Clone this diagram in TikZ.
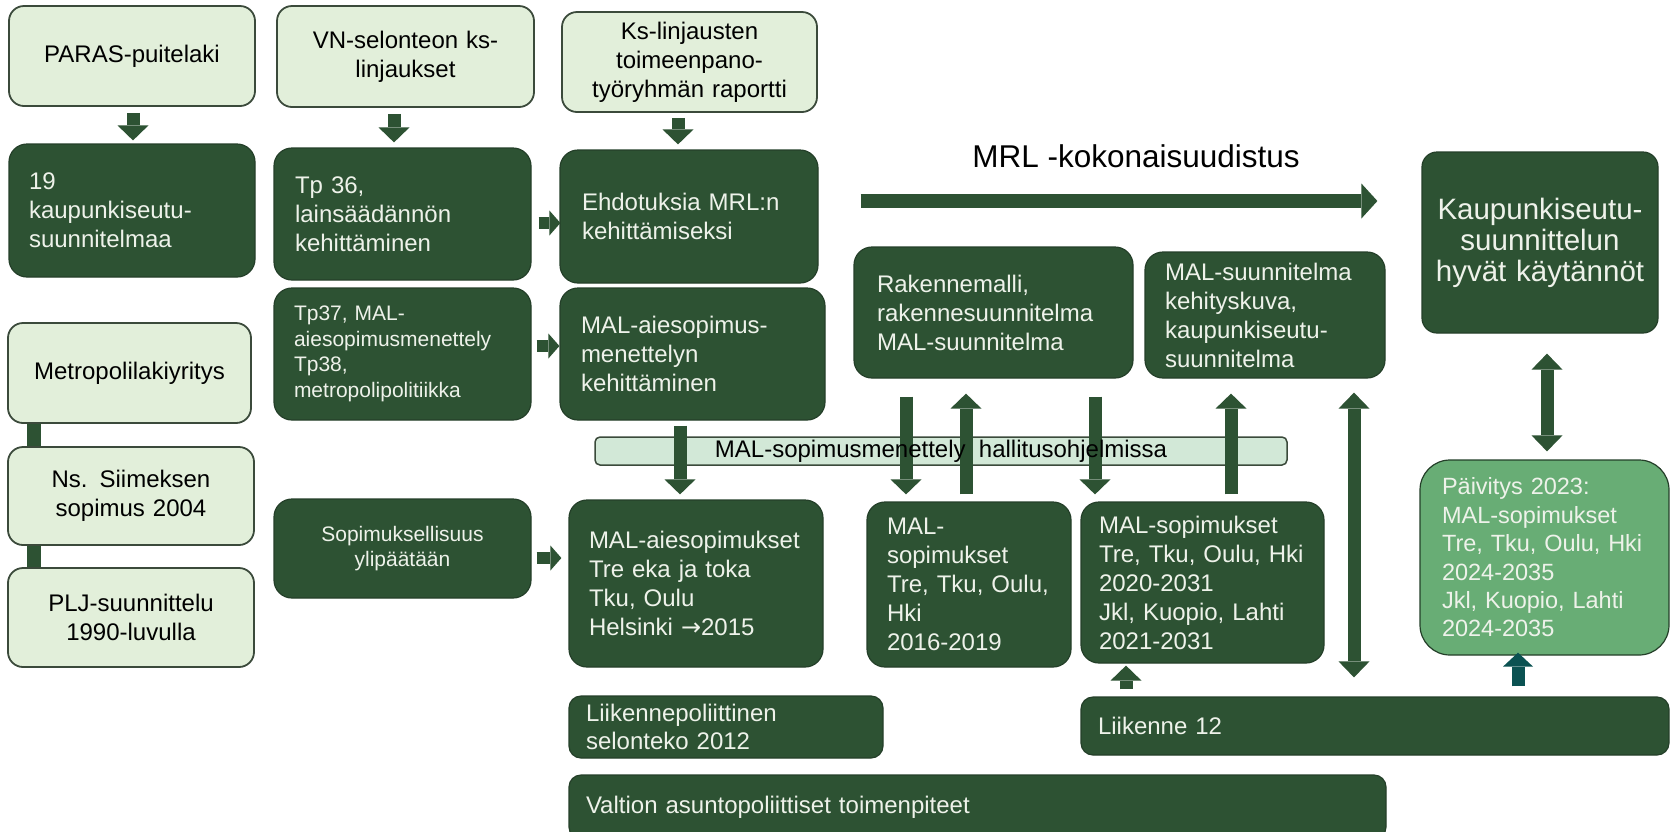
\documentclass[tikz,border=0pt]{standalone}
\usepackage{fontspec}
\setmainfont{Liberation Sans}
\newfontfamily\arrowfont{DejaVu Sans}
\usetikzlibrary{arrows.meta}
\definecolor{dgreen}{HTML}{2D5233}
\definecolor{dborder}{HTML}{243F29}
\definecolor{lgreen}{HTML}{E2EFDA}
\definecolor{lborder}{HTML}{3B4A3B}
\definecolor{barfill}{HTML}{D2E8D7}
\definecolor{mgreen}{HTML}{68AD75}
\definecolor{tealarrow}{HTML}{0B5252}
\definecolor{boxtext}{HTML}{EEF2EA}
\tikzset{
  fnorm/.style={font=\fontsize{24pt}{29pt}\selectfont},
  fsmall/.style={font=\fontsize{21pt}{25.5pt}\selectfont},
  dbox/.style={rectangle, rounded corners=18pt, fill=dgreen, draw=dborder, line width=1.2pt,
    text=boxtext, align=left, inner ysep=0pt, fnorm},
  lbox/.style={rectangle, rounded corners=15pt, fill=lgreen, draw=lborder, line width=1.8pt,
    text=black, align=center, inner xsep=0pt, inner ysep=0pt, fnorm},
  sz/.style n args={4}{minimum width=#1pt, minimum height=#2pt, inner xsep=#3pt, text width=#4pt},
  blk/.style={draw=dgreen, line width=13pt},
  darr/.style={blk, -{Triangle[width=31pt,length=15pt,line width=0pt]}},
  rarr/.style={draw=dgreen, line width=12pt, -{Triangle[width=25pt,length=11pt,line width=0pt]}},
  dbl/.style={blk, {Triangle[width=31pt,length=16pt,line width=0pt]}-{Triangle[width=31pt,length=16pt,line width=0pt]}},
  mrlarr/.style={draw=dgreen, line width=14pt, -{Triangle[width=35pt,length=16pt,line width=0pt]}},
  tarr/.style={draw=tealarrow, line width=13pt, -{Triangle[width=30pt,length=14pt,line width=0pt]}},
  link/.style={draw=dgreen, line width=14pt},
}
\begin{document}
\begin{tikzpicture}[x=1pt,y=-1pt]
\useasboundingbox (0,0) rectangle (1671,831);

% light boxes
\node[lbox, sz={246}{100}{0}{246}] (paras) at (132,56) {PARAS-puitelaki};
\node[lbox, sz={257}{101}{0}{257}] (vn) at (405.5,56.5) {VN-selonteon ks-\\linjaukset};
\node[lbox, sz={255}{100}{0}{255}] (ks) at (689.5,62) {Ks-linjausten\\toimeenpano-\\työryhmän raportti};
\node[lbox, sz={243}{100}{0}{243}] (metro) at (129.5,373) {Metropolilakiyritys};
\node[lbox, sz={246}{98}{0}{246}] (ns) at (131,496) {Ns. Siimeksen\\sopimus 2004};
\node[lbox, sz={246}{99}{0}{246}] (plj) at (131,617.5) {PLJ-suunnittelu\\1990-luvulla};

% dark boxes
\node[dbox, sz={246}{133}{20}{206}] (nine19) at (132,210.5) {19\\kaupunkiseutu-\\suunnitelmaa};
\node[dbox, sz={257}{132}{21}{215}] (tp36) at (402.5,214) {Tp 36,\\lainsäädännön\\kehittäminen};
\node[dbox, sz={258}{133}{22}{214}] (ehd) at (689,216.5) {Ehdotuksia MRL:n\\kehittämiseksi};
\node[dbox, sz={257}{132}{20}{217}, fsmall] (tp37) at (402.5,354) {Tp37, MAL-\\aiesopimusmenettely\\Tp38,\\metropolipolitiikka};
\node[dbox, sz={265}{132}{21}{223}] (malmen) at (692.5,354) {MAL-aiesopimus-\\menettelyn\\kehittäminen};
\node[dbox, sz={279}{131}{23}{233}] (rak) at (993.5,312.5) {Rakennemalli,\\rakennesuunnitelma\\MAL-suunnitelma};
\node[dbox, sz={240}{126}{20}{200}] (keh) at (1265,315) {MAL-suunnitelma\\kehityskuva,\\kaupunkiseutu-\\suunnitelma};
\node[dbox, sz={236}{181}{0}{236}, align=center, rounded corners=15pt,
  font=\fontsize{29.5pt}{31pt}\selectfont] (kaup) at (1540,242.5) {Kaupunkiseutu-\\suunnittelun\\hyvät käytännöt};
\node[dbox, sz={257}{99}{0}{257}, align=center, fsmall] (sop) at (402.5,548.5) {Sopimuksellisuus\\ylipäätään};
\node[dbox, sz={254}{167}{20}{214}] (malaie) at (696,583.5) {MAL-aiesopimukset\\Tre eka ja toka\\Tku, Oulu\\Helsinki {\arrowfont →}2015};
\node[dbox, sz={204}{165}{20}{164}] (mal16) at (969,584.5) {MAL-\\sopimukset\\Tre, Tku, Oulu,\\Hki\\2016-2019};
\node[dbox, sz={243}{161}{18}{207}] (mal20) at (1202.5,582.5) {MAL-sopimukset\\Tre, Tku, Oulu, Hki\\2020-2031\\Jkl, Kuopio, Lahti\\2021-2031};
\node[dbox, sz={249}{195}{22}{205}, fill=mgreen, rounded corners=30pt,
  font=\fontsize{23.5pt}{28.4pt}\selectfont] (paiv) at (1544.5,557.5) {Päivitys 2023:\\MAL-sopimukset\\Tre, Tku, Oulu, Hki\\2024-2035\\Jkl, Kuopio, Lahti\\2024-2035};
\node[dbox, sz={314}{62}{17}{280}, rounded corners=12pt, font=\fontsize{24pt}{28pt}\selectfont] (liikp) at (726,727) {Liikennepoliittinen\\selonteko 2012};
\node[dbox, sz={588}{58}{17}{554}, rounded corners=12pt] (liik12) at (1375,726) {Liikenne 12};
\begin{scope}
\clip (0,0) rectangle (1671,831);
\node[dbox, sz={817}{64}{17}{783}, rounded corners=12pt] (valt) at (977.5,807) {Valtion asuntopoliittiset toimenpiteet};
\end{scope}

% MRL label
\node[font=\fontsize{31.5pt}{36pt}\selectfont, text=black, inner sep=0pt] (mrl) at (1136,156) {MRL -kokonaisuudistus};

% government programme bar (fill first)
\node[rectangle, rounded corners=5pt, fill=barfill, draw=lborder, line width=1.5pt,
  minimum width=692pt, minimum height=28pt, inner sep=0pt] (bar) at (941,451) {};

% links on the left
\draw[link] (metro.south -| 34,0) -- (ns.north -| 34,0);
\draw[link] (ns.south -| 34,0) -- (plj.north -| 34,0);

% arrows
\draw[darr, shorten <=6pt, shorten >=3pt] (paras.south -| 133,0) -- (nine19.north -| 133,0);
\draw[darr, shorten <=6pt, shorten >=5pt] (vn.south -| 394,0) -- (tp36.north -| 394,0);
\draw[darr, shorten <=5pt, shorten >=5pt] (ks.south -| 678,0) -- (ehd.north -| 678,0);
\draw[rarr, shorten <=7pt, shorten >=-1pt] (tp36.east |- 0,223) -- (ehd.west |- 0,223);
\draw[rarr, shorten <=5pt, shorten >=0pt] (tp37.east |- 0,346) -- (malmen.west |- 0,346);
\draw[rarr, shorten <=5pt, shorten >=7pt] (sop.east |- 0,558) -- (malaie.west |- 0,558);
\draw[mrlarr, shorten <=42pt, shorten >=44pt] (ehd.east |- 0,201) -- (kaup.west |- 0,201);
\draw[darr, shorten <=5pt, shorten >=5pt] (malmen.south -| 680,0) -- (malaie.north -| 680,0);
\draw[darr, shorten <=18pt, shorten >=7pt] (rak.south -| 906,0) -- (mal16.north -| 906,0);
\draw[darr, shorten <=7pt, shorten >=15pt] (mal16.north -| 966,0) -- (rak.south -| 966,0);
\draw[darr, shorten <=18pt, shorten >=7pt] (rak.south -| 1095,0) -- (mal20.north -| 1095,0);
\draw[darr, shorten <=7pt, shorten >=15pt] (mal20.north -| 1231,0) -- (keh.south -| 1231,0);
\draw[dbl, shorten <=14pt, shorten >=19pt] (keh.south -| 1354,0) -- (liik12.north -| 1354,0);
\draw[dbl, shorten <=20pt, shorten >=8pt] (kaup.south -| 1547,0) -- (paiv.north -| 1547,0);
\draw[darr, shorten <=7pt, shorten >=2pt] (liik12.north -| 1126,0) -- (mal20.south -| 1126,0);
\draw[tarr, shorten <=10pt, shorten >=-3pt] (liik12.north -| 1518,0) -- (paiv.south -| 1518,0);

% bar text on top
\node[fnorm, text=black, inner sep=0pt] (bartext) at (bar.center) {MAL-sopimusmenettely\ \ hallitusohjelmissa};
\end{tikzpicture}
\end{document}
